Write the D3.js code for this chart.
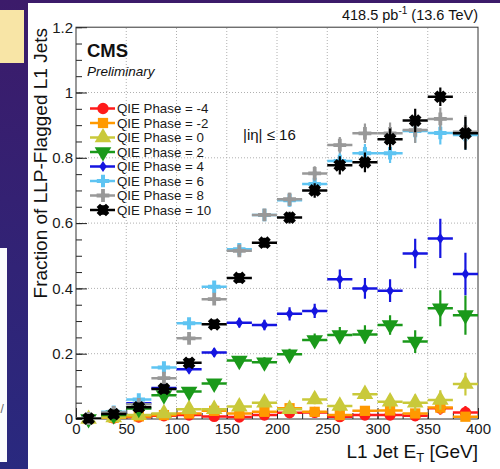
<!DOCTYPE html>
<html>
<head>
<meta charset="utf-8">
<script src="https://cdn.jsdelivr.net/npm/d3@7"></script>
<style>
html, body { margin: 0; padding: 0; background: #2e2470; }
svg { display: block; font-family: "Liberation Sans", Arial, Helvetica, sans-serif; }
</style>
</head>
<body>
<svg id="chart" width="500" height="469"></svg>
<script>
// bin centres of L1 jet ET (GeV), each bin is 25 GeV wide
const binCenters = [12.5, 37.5, 62.5, 87.5, 112.5, 137.5, 162.5, 187.5,
  212.5, 237.5, 262.5, 287.5, 312.5, 337.5, 362.5, 387.5];
const binHalf = 12.5;

const phases = ["-4", "-2", "0", "2", "4", "6", "8", "10"];

// fraction of LLP-flagged jets per QIE phase
const fracM4 = [0.0, 0.003, 0.006, 0.01, 0.012, 0.008, 0.006, 0.012, 0.019, 0.02, 0.007, 0.012, 0.012, 0.01, 0.033, 0.02];
const fracM2 = [0.0, 0.004, 0.008, 0.012, 0.017, 0.025, 0.017, 0.022, 0.033, 0.022, 0.012, 0.025, 0.026, 0.017, 0.035, 0.007];
const frac0  = [0.0, 0.005, 0.012, 0.017, 0.03, 0.03, 0.038, 0.05, 0.03, 0.06, 0.04, 0.076, 0.053, 0.05, 0.058, 0.107];
const frac2  = [0.0, 0.012, 0.032, 0.073, 0.084, 0.109, 0.179, 0.174, 0.198, 0.242, 0.257, 0.259, 0.288, 0.237, 0.339, 0.318];
const frac4  = [0.001, 0.018, 0.048, 0.095, 0.152, 0.204, 0.295, 0.288, 0.322, 0.331, 0.428, 0.40, 0.393, 0.507, 0.553, 0.444];
const frac6  = [0.002, 0.022, 0.060, 0.158, 0.293, 0.405, 0.52, 0.625, 0.67, 0.72, 0.79, 0.814, 0.814, 0.882, 0.876, 0.870];
const frac8  = [0.002, 0.02, 0.045, 0.125, 0.247, 0.367, 0.515, 0.625, 0.673, 0.752, 0.839, 0.875, 0.875, 0.885, 0.919, 0.88];
const frac10 = [0.001, 0.015, 0.036, 0.092, 0.172, 0.29, 0.432, 0.54, 0.617, 0.70, 0.777, 0.786, 0.857, 0.914, 0.987, 0.875];

// statistical uncertainties (vertical error bars)
const errM4 = [0.001, 0.002, 0.003, 0.004, 0.005, 0.005, 0.005, 0.006, 0.008, 0.009, 0.008, 0.01, 0.011, 0.012, 0.02, 0.02];
const errM2 = [0.001, 0.002, 0.003, 0.004, 0.005, 0.006, 0.006, 0.007, 0.008, 0.01, 0.01, 0.012, 0.012, 0.013, 0.02, 0.012];
const err0  = [0.001, 0.003, 0.005, 0.006, 0.007, 0.008, 0.009, 0.01, 0.012, 0.015, 0.016, 0.02, 0.022, 0.025, 0.03, 0.035];
const err2  = [0.002, 0.004, 0.006, 0.01, 0.011, 0.012, 0.014, 0.015, 0.017, 0.02, 0.025, 0.028, 0.03, 0.035, 0.055, 0.06];
const err4  = [0.002, 0.005, 0.008, 0.011, 0.012, 0.013, 0.015, 0.016, 0.02, 0.022, 0.03, 0.032, 0.035, 0.045, 0.06, 0.065];
const err6  = [0.003, 0.005, 0.009, 0.012, 0.014, 0.015, 0.016, 0.017, 0.02, 0.022, 0.025, 0.028, 0.03, 0.035, 0.035, 0.045];
const err8  = [0.003, 0.005, 0.008, 0.012, 0.014, 0.015, 0.016, 0.017, 0.02, 0.022, 0.025, 0.03, 0.033, 0.04, 0.035, 0.05];
const err10 = [0.003, 0.005, 0.008, 0.01, 0.012, 0.013, 0.014, 0.015, 0.018, 0.022, 0.028, 0.03, 0.033, 0.036, 0.028, 0.05];

const xTicks = [0, 50, 100, 150, 200, 250, 300, 350, 400];
const yTicks = [0, 0.2, 0.4, 0.6, 0.8, 1, 1.2];

const colors = ["#ff1a1a", "#ff9900", "#c9c93a", "#1a991a", "#1515e0", "#5ec4f2", "#999999", "#000000"];
const shapes = ["circle", "square", "triUp", "triDown", "diamond", "plus", "star", "xcross"];

const series = phases.map((p, i) => ({
  name: "QIE Phase = " + p,
  values: [fracM4, fracM2, frac0, frac2, frac4, frac6, frac8, frac10][i],
  errors: [errM4, errM2, err0, err2, err4, err6, err8, err10][i],
  color: colors[i],
  shape: shapes[i]
}));

const svg = d3.select("#chart");

// slide background
const defs = svg.append("defs");
const grad = defs.append("linearGradient").attr("id", "bg").attr("x1", 0).attr("y1", 0).attr("x2", 0).attr("y2", 1);
grad.append("stop").attr("offset", "0%").attr("stop-color", "#3c1b6a");
grad.append("stop").attr("offset", "100%").attr("stop-color", "#29297f");
svg.append("rect").attr("width", 500).attr("height", 469).attr("fill", "url(#bg)");
svg.append("rect").attr("x", 0).attr("y", 10).attr("width", 24).attr("height", 53).attr("fill", "#f8e5a6");
svg.append("rect").attr("x", 0).attr("y", 248).attr("width", 7).attr("height", 214).attr("fill", "#fbfbfd");
svg.append("text").attr("x", 0.5).attr("y", 413).attr("font-size", 12).attr("fill", "#666").text("/");
svg.append("rect").attr("x", 28).attr("y", 3).attr("width", 472).attr("height", 466).attr("fill", "#ffffff");

const x = d3.scaleLinear().domain([0, 400]).range([76, 478]);
const y = d3.scaleLinear().domain([0, 1.2]).range([419, 27.2]);

defs.append("clipPath").attr("id", "plotClip")
  .append("rect").attr("x", 76).attr("y", 27.2).attr("width", 402).attr("height", 391.8);

// dotted grid
const grid = svg.append("g").attr("stroke", "#b0b0b0").attr("stroke-dasharray", "1,2").attr("stroke-width", 1);
grid.selectAll("line.gx").data(xTicks.slice(1, -1)).join("line")
  .attr("x1", d => x(d)).attr("x2", d => x(d)).attr("y1", y(0)).attr("y2", y(1.2));
grid.selectAll("line.gy").data(yTicks.slice(1, -1)).join("line")
  .attr("x1", x(0)).attr("x2", x(400)).attr("y1", d => y(d)).attr("y2", d => y(d));

// axes with ticks pointing into the frame
function styleAxis(g) {
  g.attr("font-size", 15).attr("font-family", null);
  g.select(".domain").remove();
  g.selectAll(".tick line").attr("stroke", "#222");
  g.selectAll(".tick text").attr("fill", "#1a1a1a");
}
svg.append("g").attr("transform", `translate(0,${y(0)})`)
  .call(d3.axisBottom(x).tickValues(d3.range(0, 401, 25)).tickSize(-6).tickFormat(""))
  .call(styleAxis);
svg.append("g").attr("transform", `translate(0,${y(0)})`)
  .call(d3.axisBottom(x).tickValues(xTicks).tickSize(-11).tickPadding(4).tickFormat(d3.format("d")))
  .call(styleAxis);
svg.append("g").attr("transform", `translate(${x(0)},0)`)
  .call(d3.axisLeft(y).tickValues(d3.range(0, 1.201, 0.05)).tickSize(-6).tickFormat(""))
  .call(styleAxis);
svg.append("g").attr("transform", `translate(${x(0)},0)`)
  .call(d3.axisLeft(y).tickValues(yTicks).tickSize(-11).tickPadding(3).tickFormat(d3.format("~g")))
  .call(styleAxis);

svg.append("rect").attr("x", x(0)).attr("y", y(1.2)).attr("width", x(400) - x(0)).attr("height", y(0) - y(1.2))
  .attr("fill", "none").attr("stroke", "#333").attr("stroke-width", 1);

// marker shapes
function crossPath(a, w) {
  return `M${-w},${-a}H${w}V${-w}H${a}V${w}H${w}V${a}H${-w}V${w}H${-a}V${-w}H${-w}Z`;
}
function drawMarker(g, shape, color) {
  if (shape === "circle") g.append("path").attr("d", d3.symbol(d3.symbolCircle, 100)()).attr("fill", color);
  else if (shape === "square") g.append("path").attr("d", d3.symbol(d3.symbolSquare, 105)()).attr("fill", color);
  else if (shape === "triUp") g.append("path").attr("d", d3.symbol(d3.symbolTriangle, 120)()).attr("fill", color);
  else if (shape === "triDown") g.append("path").attr("d", d3.symbol(d3.symbolTriangle, 120)()).attr("transform", "rotate(180)").attr("fill", color);
  else if (shape === "diamond") g.append("path").attr("d", "M0,-5.5L3.8,0L0,5.5L-3.8,0Z").attr("fill", color);
  else if (shape === "plus") g.append("path").attr("d", crossPath(6.2, 2)).attr("fill", color);
  else if (shape === "star") {
    g.append("path").attr("d", crossPath(6.4, 1.9)).attr("fill", color);
    g.append("path").attr("d", "M0,-3.6L3.6,0L0,3.6L-3.6,0Z").attr("fill", color);
  } else if (shape === "xcross") {
    g.append("path").attr("d", crossPath(6.6, 2.4)).attr("transform", "rotate(45)").attr("fill", color);
    g.append("path").attr("d", crossPath(4.7, 2.3)).attr("fill", color);
  }
}

// data points with error bars
series.forEach(s => {
  const g = svg.append("g");
  const pts = s.values.map((v, i) => ({ c: binCenters[i], v: v, e: s.errors[i] }));
  const bars = g.append("g").attr("clip-path", "url(#plotClip)").attr("stroke", s.color);
  bars.selectAll("line.h").data(pts).join("line")
    .attr("x1", d => x(d.c - binHalf)).attr("x2", d => x(d.c + binHalf))
    .attr("y1", d => y(d.v)).attr("y2", d => y(d.v)).attr("stroke-width", 2.5);
  bars.selectAll("line.v").data(pts).join("line")
    .attr("x1", d => x(d.c)).attr("x2", d => x(d.c))
    .attr("y1", d => y(Math.max(0, d.v - d.e))).attr("y2", d => y(d.v + d.e)).attr("stroke-width", 2.2);
  g.selectAll("g.m").data(pts).join("g")
    .attr("transform", d => `translate(${x(d.c)},${y(d.v)})`)
    .each(function () { drawMarker(d3.select(this), s.shape, s.color); });
});

// legend
const legend = svg.append("g").attr("font-size", 13.3).attr("fill", "#1a1a1a");
series.forEach((s, i) => {
  const cy = 108.5 + i * 14.5;
  legend.append("line").attr("x1", 90).attr("x2", 115).attr("y1", cy).attr("y2", cy)
    .attr("stroke", s.color).attr("stroke-width", 2.5);
  drawMarker(legend.append("g").attr("transform", `translate(103,${cy})`), s.shape, s.color);
  legend.append("text").attr("x", 117).attr("y", cy + 4.7).text(s.name);
});

// labels
svg.append("text").attr("x", 87).attr("y", 56.5).attr("font-size", 18.5).attr("font-weight", "bold").attr("fill", "#111").text("CMS");
svg.append("text").attr("x", 87).attr("y", 76).attr("font-size", 13.5).attr("font-style", "italic").attr("fill", "#111").text("Preliminary");

const lumi = svg.append("text").attr("x", 478).attr("y", 20).attr("text-anchor", "end").attr("font-size", 14.5).attr("fill", "#111");
lumi.append("tspan").text("418.5 pb");
lumi.append("tspan").attr("font-size", 10).attr("dy", -6).text("-1");
lumi.append("tspan").attr("dy", 6).text(" (13.6 TeV)");

svg.append("text").attr("x", 243).attr("y", 140).attr("font-size", 15).attr("fill", "#111").text("|iη| ≤ 16");

svg.append("text").attr("transform", "translate(47,28) rotate(-90)").attr("text-anchor", "end")
  .attr("font-size", 19).attr("fill", "#111").text("Fraction of LLP-Flagged L1 Jets");

const xt = svg.append("text").attr("x", 478).attr("y", 458).attr("text-anchor", "end").attr("font-size", 19).attr("fill", "#111");
xt.append("tspan").text("L1 Jet E");
xt.append("tspan").attr("font-size", 13).attr("dy", 4).text("T");
xt.append("tspan").attr("dy", -4).text(" [GeV]");
</script>
</body>
</html>
